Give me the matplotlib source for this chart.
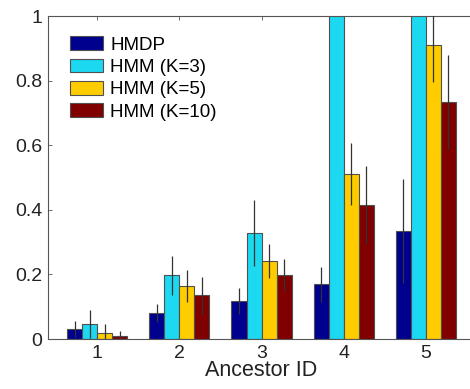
import numpy as np
import matplotlib.pyplot as plt

plt.rcParams['font.family'] = ['Liberation Sans', 'DejaVu Sans']

ancestors = [1, 2, 3, 4, 5]
labels = ['HMDP', 'HMM (K=3)', 'HMM (K=5)', 'HMM (K=10)']
colors = ['#00008f', '#1cd8f0', '#ffcc00', '#800000']

## mean values per method
hmdp = [0.030, 0.080, 0.118, 0.169, 0.335]
hmm3 = [0.047, 0.197, 0.329, 1.30, 1.40]
hmm5 = [0.018, 0.164, 0.241, 0.511, 0.912]
hmm10 = [0.008, 0.136, 0.198, 0.415, 0.734]

## error bar half lengths
err_hmdp = [0.025, 0.027, 0.040, 0.055, 0.160]
err_hmm3 = [0.043, 0.060, 0.102, 0.20, 0.20]
err_hmm5 = [0.027, 0.050, 0.052, 0.095, 0.115]
err_hmm10 = [0.017, 0.057, 0.049, 0.121, 0.145]

values = [hmdp, hmm3, hmm5, hmm10]
errors = [err_hmdp, err_hmm3, err_hmm5, err_hmm10]

fig = plt.figure(figsize=(4.7, 3.89), dpi=100)
ax = fig.add_axes([0.102, 0.1285, 0.909, 0.830])

x = np.array(ancestors, dtype=float)
w = 0.183
for i in range(4):
    pos = x + (i - 1.5) * w
    ax.bar(pos, values[i], w, color=colors[i], edgecolor='#505050',
           linewidth=0.8, label=labels[i], zorder=2)
    ax.errorbar(pos, values[i], yerr=errors[i], fmt='none',
                ecolor='#333333', elinewidth=0.9, capsize=0, zorder=3)

ax.set_xlim(0.4, 5.6)
ax.set_ylim(0, 1)
ax.set_xticks(ancestors)
ax.set_yticks([0, 0.2, 0.4, 0.6, 0.8, 1])
ax.set_yticklabels(['0', '0.2', '0.4', '0.6', '0.8', '1'])
ax.tick_params(direction='in', top=True, right=True, labelsize=14,
               length=3, width=0.6, color='#555555', labelcolor='#222222',
               pad=4)
for s in ax.spines.values():
    s.set_color('#555555')
    s.set_linewidth(0.8)
ax.set_xlabel('Ancestor ID', fontsize=15.5, color='#222222', labelpad=-1)

ax.legend(loc='upper left', frameon=False, fontsize=13.5, handlelength=1.75,
          handleheight=0.75, labelspacing=0.26, handletextpad=0.4,
          borderpad=0, borderaxespad=0, bbox_to_anchor=(0.052, 0.937))

fig.savefig('out.png', dpi=100)
